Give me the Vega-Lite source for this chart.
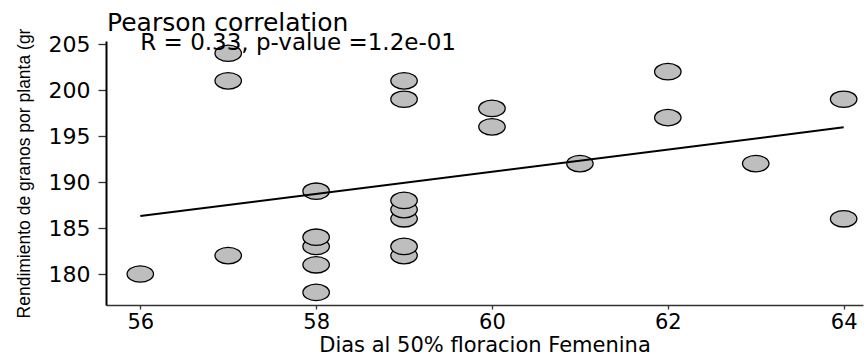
{
  "$schema": "https://vega.github.io/schema/vega-lite/v6.json",
  "width": 757,
  "height": 264,
  "autosize": "none",
  "padding": {"left": 106, "top": 41, "right": 1, "bottom": 48},
  "background": "white",
  "config": {"view": {"stroke": null}, "font": "DejaVu Sans"},
  "title": {
    "text": "Pearson correlation",
    "anchor": "start",
    "frame": "group",
    "fontSize": 25,
    "fontWeight": "normal",
    "font": "DejaVu Sans",
    "color": "black",
    "baseline": "alphabetic",
    "offset": -28,
    "dx": 1
  },
  "data": {
    "values": [
      {"dias": 56, "rendimiento": 180},
      {"dias": 57, "rendimiento": 182},
      {"dias": 57, "rendimiento": 201},
      {"dias": 57, "rendimiento": 204},
      {"dias": 58, "rendimiento": 178},
      {"dias": 58, "rendimiento": 181},
      {"dias": 58, "rendimiento": 183},
      {"dias": 58, "rendimiento": 184},
      {"dias": 58, "rendimiento": 189},
      {"dias": 59, "rendimiento": 182},
      {"dias": 59, "rendimiento": 183},
      {"dias": 59, "rendimiento": 186},
      {"dias": 59, "rendimiento": 187},
      {"dias": 59, "rendimiento": 188},
      {"dias": 59, "rendimiento": 199},
      {"dias": 59, "rendimiento": 201},
      {"dias": 60, "rendimiento": 196},
      {"dias": 60, "rendimiento": 198},
      {"dias": 61, "rendimiento": 192},
      {"dias": 62, "rendimiento": 197},
      {"dias": 62, "rendimiento": 202},
      {"dias": 63, "rendimiento": 192},
      {"dias": 64, "rendimiento": 186},
      {"dias": 64, "rendimiento": 199}
    ]
  },
  "layer": [
    {
      "mark": {
        "type": "point",
        "shape": "M -1 0 A 1 0.62 0 1 1 1 0 A 1 0.62 0 1 1 -1 0 Z",
        "filled": true,
        "fill": "#bebebe",
        "stroke": "black",
        "strokeWidth": 1.3,
        "size": 700,
        "opacity": 1
      },
      "encoding": {
        "x": {
          "field": "dias",
          "type": "quantitative",
          "scale": {"domain": [55.61, 64.22], "nice": false, "zero": false},
          "axis": {
            "values": [56, 58, 60, 62, 64],
            "format": "d",
            "title": "Dias al 50% floracion Femenina",
            "grid": false,
            "domainColor": "#333333",
            "domainWidth": 1.3,
            "tickColor": "#333333",
            "tickSize": 4,
            "tickWidth": 1.3,
            "labelFont": "DejaVu Sans",
            "labelFontSize": 21,
            "labelColor": "black",
            "labelBaseline": "alphabetic",
            "labelPadding": 19,
            "labelFlush": false,
            "titleFont": "DejaVu Sans",
            "titleFontSize": 21,
            "titleFontWeight": "normal",
            "titleColor": "black",
            "titleBaseline": "alphabetic",
            "titleY": 46
          }
        },
        "y": {
          "field": "rendimiento",
          "type": "quantitative",
          "scale": {"domain": [176.63, 205.33], "nice": false, "zero": false},
          "axis": {
            "values": [180, 185, 190, 195, 200, 205],
            "format": "d",
            "title": "Rendimiento de granos por planta (gr",
            "grid": false,
            "domainColor": "black",
            "domainWidth": 2,
            "tickColor": "#333333",
            "tickSize": 8,
            "tickWidth": 1.3,
            "labelFont": "DejaVu Sans",
            "labelFontSize": 22,
            "labelColor": "black",
            "labelPadding": 8,
            "labelFlush": false,
            "titleFont": "Liberation Sans",
            "titleFontSize": 17.5,
            "titleFontWeight": "normal",
            "titleColor": "black",
            "titleBaseline": "bottom",
            "titleX": -73
          }
        }
      }
    },
    {
      "transform": [{"regression": "rendimiento", "on": "dias"}],
      "mark": {"type": "line", "color": "black", "strokeWidth": 2},
      "encoding": {
        "x": {"field": "dias", "type": "quantitative"},
        "y": {"field": "rendimiento", "type": "quantitative"}
      }
    },
    {
      "data": {"values": [{"label": "R = 0.33, p-value =1.2e-01"}]},
      "mark": {
        "type": "text",
        "align": "left",
        "baseline": "alphabetic",
        "fontSize": 23,
        "font": "DejaVu Sans",
        "color": "black"
      },
      "encoding": {
        "text": {"field": "label"},
        "x": {"datum": 56},
        "y": {"datum": 204.3}
      }
    }
  ]
}
